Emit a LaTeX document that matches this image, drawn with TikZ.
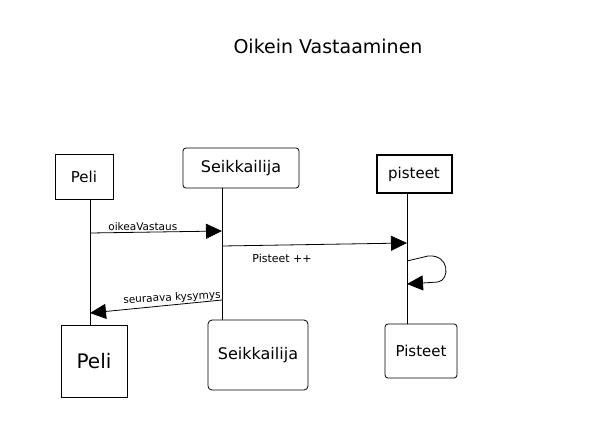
\documentclass[tikz,border=0pt]{standalone}
\usepackage{fontspec}
\setmainfont{DejaVu Sans}
\usetikzlibrary{arrows.meta,calc}
\begin{document}
\begin{tikzpicture}[x=1pt,y=-1pt,
  obj/.style={draw,line width=0.8pt,inner sep=0pt,font=\fontsize{15}{17}\selectfont},
  life/.style={line width=0.8pt},
  msg/.style={line width=0.8pt,-{Triangle[length=16pt,width=15pt]}},
  lbl/.style={font=\fontsize{10.5}{12}\selectfont,inner sep=1pt}]
\useasboundingbox (0,0) rectangle (597,440);
\node[font=\fontsize{19}{21}\selectfont] (title) at (328,46) {Oikein Vastaaminen};
% top objects
\node[obj,minimum width=58pt,minimum height=45pt] (p1) at (84,177) {Peli};
\node[obj,rounded corners=3pt,minimum width=116pt,minimum height=40pt,font=\fontsize{16}{18}\selectfont] (s1) at (241,168) {Seikkailija};
\node[obj,line width=2pt,minimum width=75pt,minimum height=38pt] (k1) at (414,174) {pisteet};
% bottom objects
\node[obj,minimum width=66pt,minimum height=72pt,font=\fontsize{20}{22}\selectfont] (p2) at (94,361) {Peli};
\node[obj,rounded corners=4pt,minimum width=100pt,minimum height=70pt,font=\fontsize{16}{18}\selectfont] (s2) at (258,355) {Seikkailija};
\node[obj,rounded corners=3pt,minimum width=72pt,minimum height=54pt] (k2) at (421,351) {Pisteet};
% lifelines
\coordinate (pa) at (p1.south -| 90,0);
\coordinate (pb) at (p2.north -| 90,0);
\coordinate (sa) at (s1.south -| 222,0);
\coordinate (sb) at (s2.north -| 222,0);
\coordinate (ka) at (k1.south -| 407,0);
\coordinate (kb) at (k2.north -| 407,0);
\draw[life] (pa) -- (pb);
\draw[life] (sa) -- (sb);
\draw[life] (ka) -- (kb);
% messages
\coordinate (m1a) at (90,233);
\coordinate (m1b) at (222,231);
\draw[msg] (m1a) -- (m1b) node[lbl,above,pos=0.4] (l1) {oikeaVastaus};
\coordinate (m2a) at (222,246);
\coordinate (m2b) at (407,243);
\draw[msg] (m2a) -- (m2b);
\node[lbl,font=\fontsize{11}{13}\selectfont] (l2) at (282,258) {Pisteet ++};
\coordinate (m3a) at (407,261);
\coordinate (m3b) at (407,284);
\draw[msg] (m3a) -- (428,256) .. controls (450,254) and (450,280) .. (438,282) -- (m3b);
\coordinate (m4a) at (222,300);
\coordinate (m4b) at (90,313);
\draw[msg] (m4a) -- (m4b);
\node[lbl,rotate=3] (l4) at (172,298) {seuraava kysymys};
\end{tikzpicture}
\end{document}
